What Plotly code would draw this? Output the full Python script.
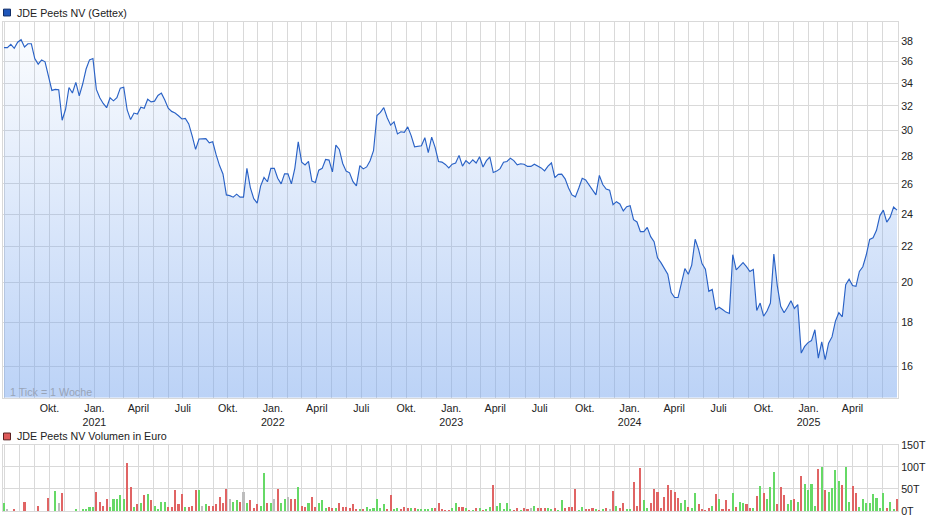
import math
import pandas as pd
import plotly.graph_objects as go

# ---------------- data ----------------
first_week = "2020-06-30"   # weekly points ("1 Tick = 1 Woche")

price = [
    37.35, 37.35, 37.68, 37.29, 37.9, 38.15, 37.42, 37.74, 37.74, 36.29,
    35.75, 36.16, 35.97, 34.68, 33.34, 33.43, 33.4, 30.8, 31.71, 33.6,
    33.11, 34.06, 32.86, 33.91, 35.29, 36.16, 36.29, 33.43, 32.69, 32.2,
    31.84, 32.69, 32.43, 32.71, 33.54, 33.63, 31.65, 30.85, 31.39, 31.31,
    31.89, 31.79, 32.57, 32.34, 32.4,
    32.9, 33.1, 32.5, 31.8, 31.53, 31.4, 31.17, 30.9, 30.95, 30.5,
    29.54, 28.5, 29.3, 29.33, 29.33, 29.0, 29.08, 28.1, 27.3, 26.7,
    25.25, 25.2, 25.1, 25.3, 25.1, 25.1, 27.1, 25.75, 25.0, 24.7,
    25.85, 26.45, 26.15, 27.1, 27.1, 26.4, 26.0, 26.7, 26.7, 26.0,
    27.1, 29.08,
    27.55, 27.35, 27.6, 26.2, 26.1, 26.97, 27.1, 27.75, 27.7, 26.85,
    28.83, 28.5, 27.45, 26.9, 26.78, 26.16, 25.87, 27.3, 27.06, 27.2,
    27.65, 28.4, 31.18, 31.45, 31.85, 31.0, 30.4, 30.66, 29.7, 29.87,
    29.82, 30.26, 29.56, 28.7, 28.73, 28.78, 29.4, 28.25, 29.45, 28.65,
    27.6, 27.55, 27.38, 27.13, 27.4,
    27.49, 28.05, 27.26, 27.66, 27.43, 27.72, 27.49, 27.95, 27.2, 27.66,
    27.93, 26.8, 26.9, 27.08, 27.54, 27.6, 27.84, 27.66, 27.36, 27.43,
    27.4, 27.24, 27.24, 27.4, 27.26, 27.13, 26.92, 27.26, 27.49, 26.44,
    26.67, 26.69, 26.35, 25.72, 25.25, 25.12, 25.72, 26.39, 26.28, 25.94,
    25.55, 25.25, 26.6, 25.96, 25.65,
    25.57, 24.6, 24.8, 24.65, 24.2, 24.47, 24.54, 23.64, 23.5, 22.9,
    22.9, 23.16, 22.6, 22.3, 21.36, 21.09, 20.76, 20.45, 19.48, 19.22,
    19.22, 19.93, 20.76, 20.45, 20.95, 22.44, 21.85, 21.04, 20.73, 19.54,
    19.64, 18.62, 18.73, 18.62, 18.49, 18.42, 21.54, 20.69, 20.91, 21.09,
    20.87, 20.6, 20.71, 18.57,
    18.94, 18.29, 18.54, 18.94, 21.57, 19.84, 18.78, 18.46, 18.73, 19.06,
    18.67, 18.86, 16.58, 16.88, 17.05, 17.14, 17.64, 16.36, 17.08, 16.29,
    17.02, 17.31, 18.05, 18.46, 18.26, 19.89, 20.18, 19.84, 19.8, 20.6,
    20.86, 21.52, 22.43, 22.53, 22.98, 23.9, 24.25, 23.49, 23.8, 24.45,
    24.25,
]

# weekly volume in thousand euro ("T")
volume_tsd = [
    17, 4, 0, 4, 0, 0, 21, 0, 0, 0, 12, 0, 0, 30, 0, 46, 17, 41, 0, 0,
    0, 4, 0, 4, 5, 10, 9, 43, 21, 12, 26, 10, 26, 26, 37, 28, 108, 54, 8, 15,
    17, 37, 39, 24, 12, 4, 21, 21, 10, 8, 48, 15, 39, 10, 8, 12, 48, 48, 12, 15,
    12, 12, 15, 32, 19, 50, 28, 21, 24, 21, 43, 19, 24, 6, 15, 12, 87, 17, 17, 28,
    50, 19, 26, 32, 28, 26, 54, 12, 10, 17, 32, 8, 19, 24, 6, 8, 6, 6, 17, 10,
    8, 6, 15, 4, 4, 4, 8, 4, 6, 26, 6, 15, 4, 37, 4, 6, 4, 8, 6, 6,
    6, 4, 4, 4, 4, 6, 6, 17, 4, 2, 2, 6, 19, 8, 10, 6, 2,
    1, 7, 6, 1, 4, 10, 59, 12, 17, 4, 17, 4, 1, 7, 1, 7, 4, 6, 12, 6,
    6, 6, 6, 4, 7, 1, 24, 6, 10, 9, 50, 1, 10, 4, 4, 7, 4, 3, 4, 7,
    4, 46, 12, 6, 17, 4, 4, 65, 12, 98, 24, 6, 17, 50, 44, 6, 32, 59, 48, 44,
    30, 19, 24, 10, 6, 41, 15, 4, 3, 7, 12, 39, 28, 4, 24, 4, 41, 10, 21, 19,
    15, 7, 6, 35, 57, 41, 26, 55, 88, 15, 55, 37, 15, 24, 26, 21, 79, 61, 48, 61,
    12, 96, 101, 48, 44, 52, 94, 68, 59, 99, 21, 57, 41, 10, 26, 19, 19, 39, 30, 6,
    41, 6, 21, 4, 26,
]

# g = up week, r = down week, n = unchanged, - = no bar
volume_dir = (
    "gn-r--r---r--r-gnr---g-ggggrrrrgggggrrgrgrgrggggrrrrrgrrrgngrrrrrrnggr"
    "ngrrrggrgnrggnrrgrrgrrgggrrgrrrrrrgrggggggrrggrrrgrgggggrrrrrggrrgr"
    "grgrggrgggggrrgrrngrrrggrggrrrrggrrrgrgrnrgrrggrrrggrrrrrrrrrggrggrrrr"
    "grgrrrgrggrrgrgrgggrrrggrgrgggg" "rgrggggrggrrgggggggg" "rggr"
)

price_ticks = [16, 18, 20, 22, 24, 26, 28, 30, 32, 34, 36, 38]
volume_ticks = [0, 50, 100, 150]
volume_ticktext = ["0T", "50T", "100T", "150T"]
quarter_names = {1: "Jan.", 4: "April", 7: "Juli", 10: "Okt."}

# ---------------- layout helpers ----------------
W, H = 940, 526
FONT = "Liberation Sans, Arial, sans-serif"
GRID = "#d9d9d9"
TXT = "#222222"


def fx(px):
    return px / W


def fy(px):
    return 1 - px / H


dates = pd.date_range(first_week, periods=len(price), freq="7D")
x_range = ["2020-06-28", "2025-07-03"]
y_lo, y_hi = 14.72, 40.03

months = pd.date_range("2020-07-01", "2025-07-01", freq="MS")
month_text = []
for d in months:
    if d.month in quarter_names and months[0] < d < months[-1]:
        t = quarter_names[d.month]
        if d.month == 1:
            t += "<br>" + str(d.year)
        month_text.append(t)
    else:
        month_text.append("")

colors = {"g": "#66d966", "r": "#e06464", "n": "#bdbdbd", "-": "rgba(0,0,0,0)"}
bar_colors = [colors[c] for c in volume_dir[: len(volume_tsd)]]

fig = go.Figure()

fig.add_trace(go.Scatter(
    x=dates, y=[y_lo] * len(price), mode="lines",
    line=dict(width=0, color="rgba(0,0,0,0)"), hoverinfo="skip",
    xaxis="x", yaxis="y",
))
fig.add_trace(go.Scatter(
    x=dates, y=price, mode="lines",
    line=dict(color="#2a62c6", width=1.15),
    fill="tonexty",
    fillgradient=dict(
        type="vertical",
        colorscale=[[0, "rgba(120,166,238,0.5)"], [1, "rgba(120,166,238,0.04)"]],
    ),
    xaxis="x", yaxis="y",
))

fig.add_trace(go.Bar(
    x=dates, y=volume_tsd, marker=dict(color=bar_colors, line=dict(width=0)),
    width=0.6 * 7 * 86400000,
    xaxis="x2", yaxis="y2",
))

axis_font = dict(family=FONT, size=10.7, color=TXT)

fig.update_layout(
    width=W, height=H,
    margin=dict(l=0, r=0, t=0, b=0),
    paper_bgcolor="white", plot_bgcolor="white",
    showlegend=False,
    bargap=0,
    xaxis=dict(
        domain=[fx(3), fx(898)], range=x_range, type="date",
        tickmode="array", tickvals=months, ticktext=month_text,
        showgrid=True, gridcolor=GRID, gridwidth=1,
        ticks="", tickfont=axis_font, zeroline=False,
        showline=True, linecolor=GRID, mirror=True,
        anchor="y",
    ),
    yaxis=dict(
        domain=[fy(401), fy(16)], type="log",
        range=[math.log10(y_lo), math.log10(y_hi)],
        side="right", tickmode="array", tickvals=price_ticks,
        ticktext=[str(v) for v in price_ticks],
        showgrid=True, gridcolor=GRID, gridwidth=1,
        ticks="", tickfont=axis_font, zeroline=False,
        showline=True, linecolor=GRID, mirror=True,
        anchor="x",
    ),
    xaxis2=dict(
        domain=[fx(3), fx(898)], range=x_range, type="date", matches="x",
        tickmode="array", tickvals=months, showticklabels=False,
        showgrid=True, gridcolor=GRID, gridwidth=1, ticks="",
        zeroline=False, showline=True, linecolor=GRID, mirror=True,
        anchor="y2",
    ),
    yaxis2=dict(
        domain=[fy(516.7), fy(449.3)], range=[0, 150],
        side="right", tickmode="array", tickvals=volume_ticks,
        ticktext=volume_ticktext,
        showgrid=True, gridcolor=GRID, gridwidth=1,
        ticks="", tickfont=axis_font, zeroline=False,
        showline=True, linecolor=GRID, mirror=True,
        anchor="x2",
    ),
)

# legends (square + label) and the tick note
fig.add_shape(type="rect", xref="paper", yref="paper",
              x0=fx(3.5), x1=fx(10.5), y0=fy(10.2), y1=fy(3.2),
              fillcolor="#1f56ba", line=dict(color="#102c66", width=1))
fig.add_annotation(text="JDE Peets NV (Gettex)", xref="paper", yref="paper",
                   x=fx(14.5), y=fy(7), xanchor="left", yanchor="middle",
                   showarrow=False, font=dict(family=FONT, size=10.7, color=TXT))
fig.add_shape(type="rect", xref="paper", yref="paper",
              x0=fx(3.5), x1=fx(10.5), y0=fy(444), y1=fy(437),
              fillcolor="#de5a5a", line=dict(color="#5a1f1f", width=1))
fig.add_annotation(text="JDE Peets NV Volumen in Euro", xref="paper", yref="paper",
                   x=fx(14.5), y=fy(440.5), xanchor="left", yanchor="middle",
                   showarrow=False, font=dict(family=FONT, size=10.7, color=TXT))
fig.add_annotation(text="1 Tick = 1 Woche", xref="paper", yref="paper",
                   x=fx(7.5), y=fy(395.5), xanchor="left", yanchor="middle",
                   showarrow=False, font=dict(family=FONT, size=10.7, color="#98a4b8"))

fig.write_html(
    "out.html",
    config={"displayModeBar": False, "staticPlot": True},
    post_script="document.body.style.margin='0';document.body.style.overflow='hidden';",
)
